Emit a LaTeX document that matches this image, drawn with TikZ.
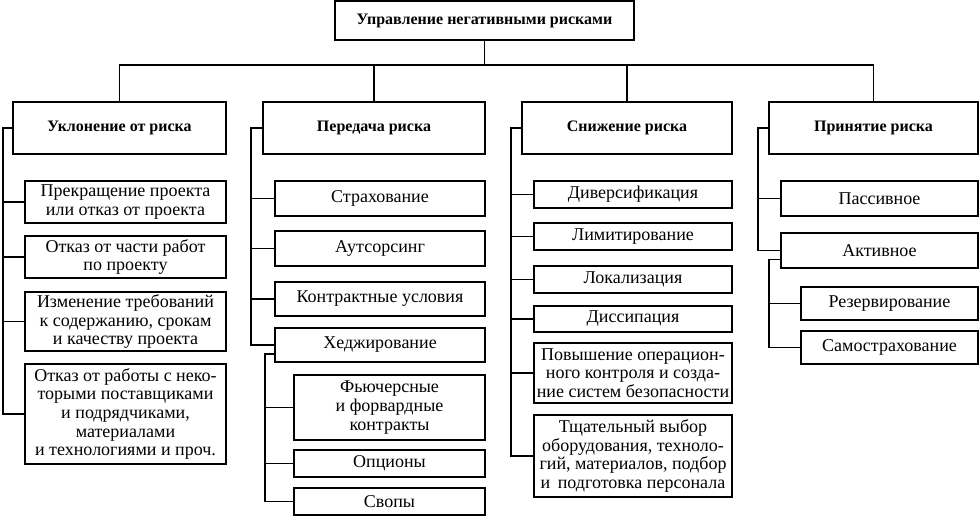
\documentclass[tikz,border=0pt]{standalone}
\usepackage{fontspec}
\setmainfont{Liberation Serif}
\begin{document}
\begin{tikzpicture}[x=1pt,y=-1pt,
  box/.style={draw, line width=1.1pt, inner sep=1pt, align=center, font=\fontsize{18}{18.6}\selectfont},
  hbox/.style={draw, line width=1.1pt, inner sep=1pt, align=center, font=\fontsize{16}{17}\selectfont\bfseries},
  conn/.style={line width=1.1pt}]
\useasboundingbox (0,0) rectangle (980,516);
% top
\node[hbox, minimum width=299pt, minimum height=39pt] (top) at (484.5,20.5) {Управление негативными рисками};
\coordinate (bar) at (0,65);
% categories
\node[hbox, minimum width=213pt, minimum height=52pt] (c1) at (119.5,128) {Уклонение от риска};
\node[hbox, minimum width=222pt, minimum height=52pt] (c2) at (374,128) {Передача риска};
\node[hbox, minimum width=210pt, minimum height=52pt] (c3) at (627,128) {Снижение риска};
\node[hbox, minimum width=209pt, minimum height=52pt] (c4) at (873.5,128) {Принятие риска};
% Uklonenie children
\node[box, minimum width=201pt, minimum height=42pt] (u1) at (125.5,202) {Прекращение проекта\\или отказ от проекта};
\node[box, minimum width=201pt, minimum height=42pt] (u2) at (125.5,257) {Отказ от части работ\\по проекту};
\node[box, minimum width=201pt, minimum height=59pt] (u3) at (125.5,321.5) {Изменение требований\\к содержанию, срокам\\и качеству проекта};
\node[box, minimum width=201pt, minimum height=100pt] (u4) at (125.5,414) {Отказ от работы с неко-\\торыми поставщиками\\и подрядчиками,\\материалами\\и технологиями и проч.};
% Peredacha children
\node[box, minimum width=210pt, minimum height=35pt] (p1) at (380,198.5) {Страхование};
\node[box, minimum width=210pt, minimum height=35pt] (p2) at (380,248.5) {Аутсорсинг};
\node[box, minimum width=210pt, minimum height=34pt] (p3) at (380,299) {Контрактные условия};
\node[box, minimum width=210pt, minimum height=34pt] (p4) at (380,345) {Хеджирование};
\node[box, minimum width=191pt, minimum height=65pt] (h1) at (389.5,407.5) {Фьючерсные\\и форвардные\\контракты};
\node[box, minimum width=191pt, minimum height=27pt] (h2) at (389.5,463.5) {Опционы};
\node[box, minimum width=191pt, minimum height=27pt] (h3) at (389.5,501.5) {Свопы};
% Snizhenie children
\node[box, minimum width=198pt, minimum height=27pt] (s1) at (633,194.5) {Диверсификация};
\node[box, minimum width=198pt, minimum height=27pt] (s2) at (633,236.5) {Лимитирование};
\node[box, minimum width=198pt, minimum height=27pt] (s3) at (633,279.5) {Локализация};
\node[box, minimum width=198pt, minimum height=26pt] (s4) at (633,319) {Диссипация};
\node[box, minimum width=198pt, minimum height=60pt] (s5) at (633,373) {Повышение операцион-\\ного контроля и созда-\\ние систем безопасности};
\node[box, minimum width=198pt, minimum height=82pt] (s6) at (633,456) {Тщательный выбор\\оборудования, техноло-\\гий, материалов, подбор\\и\, подготовка персонала};
% Prinyatie children
\node[box, minimum width=197pt, minimum height=35pt] (r1) at (879.5,198.5) {Пассивное};
\node[box, minimum width=197pt, minimum height=35pt] (r2) at (879.5,250.5) {Активное};
\node[box, minimum width=177pt, minimum height=33pt] (r3) at (889.5,303.5) {Резервирование};
\node[box, minimum width=177pt, minimum height=33pt] (r4) at (889.5,347.5) {Самострахование};
% spine coordinates
\coordinate (sp1) at (3,0);
\coordinate (sp2) at (251,0);
\coordinate (sp2b) at (265,0);
\coordinate (sp3) at (511,0);
\coordinate (sp4) at (758,0);
\coordinate (sp4b) at (769,0);
% top connectors
\draw[conn] (top.south) -- (top.south |- bar);
\draw[conn] (c1.north) -- (c1.north |- bar) -- (c4.north |- bar) -- (c4.north);
\draw[conn] (c2.north) -- (c2.north |- bar);
\draw[conn] (c3.north) -- (c3.north |- bar);
% Uklonenie
\draw[conn] (c1.west) -- (c1.west -| sp1) |- (u4.west);
\foreach \n in {u1,u2,u3} \draw[conn] (\n.west) -- (\n.west -| sp1);
% Peredacha
\draw[conn] (c2.west) -- (c2.west -| sp2) |- (p4.west);
\foreach \n in {p1,p2,p3} \draw[conn] (\n.west) -- (\n.west -| sp2);
\draw[conn] ([yshift=-9pt]p4.west) -- ([yshift=-9pt]p4.west -| sp2b) |- (h3.west);
\foreach \n in {h1,h2} \draw[conn] (\n.west) -- (\n.west -| sp2b);
% Snizhenie
\draw[conn] (c3.west) -- (c3.west -| sp3) |- (s6.west);
\foreach \n in {s1,s2,s3,s4,s5} \draw[conn] (\n.west) -- (\n.west -| sp3);
% Prinyatie
\draw[conn] (c4.west) -- (c4.west -| sp4) |- (r2.west);
\draw[conn] (r1.west) -- (r1.west -| sp4);
\draw[conn] ([yshift=-9pt]r2.west) -- ([yshift=-9pt]r2.west -| sp4b) |- (r4.west);
\draw[conn] (r3.west) -- (r3.west -| sp4b);
\end{tikzpicture}
\end{document}
